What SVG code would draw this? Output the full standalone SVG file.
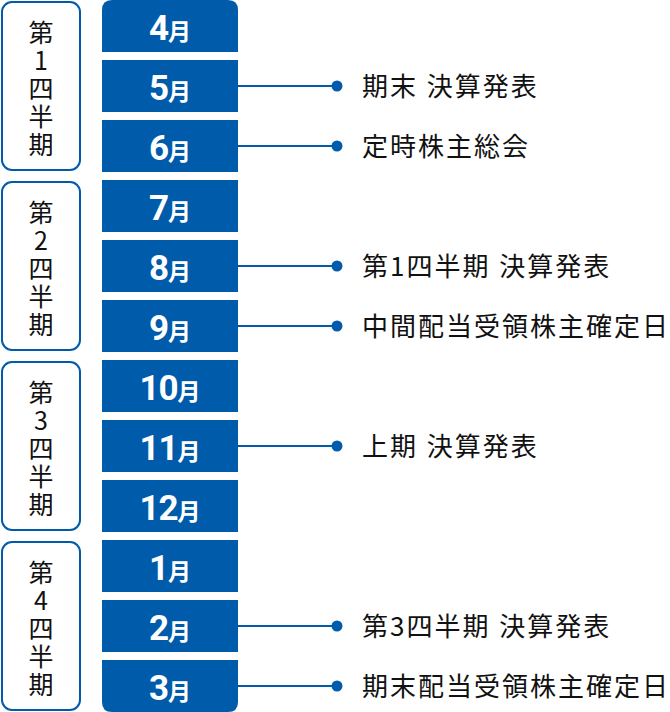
<svg xmlns="http://www.w3.org/2000/svg" width="670" height="712" viewBox="0 0 670 712">
<style>
.q{fill:#fff;stroke:#005bab;stroke-width:2}
.qt{font-family:"Noto Sans CJK JP","Noto Sans",sans-serif;font-size:25px;fill:#111;text-anchor:middle}
.m{fill:#005bab}
.mt{font-family:Roboto,"Noto Sans CJK JP",sans-serif;font-weight:700;font-size:35px;fill:#fff;text-anchor:middle;letter-spacing:-1px}
.mt .u{font-family:"Noto Sans CJK JP",sans-serif;font-size:23px;letter-spacing:0}
.ln{stroke:#005bab;stroke-width:2;fill:none}
.dot{fill:#005bab}
.lb{font-family:"Noto Sans CJK JP","Noto Sans",sans-serif;font-size:26px;fill:#111;letter-spacing:2px;word-spacing:1px}
</style>

<g id="q1"><rect class="q" x="2" y="2" width="78" height="168" rx="10"/>
<text class="qt"><tspan x="41" y="42">第</tspan><tspan x="41" y="70">1</tspan><tspan x="41" y="98">四</tspan><tspan x="41" y="126">半</tspan><tspan x="41" y="154">期</tspan></text></g>
<g id="q2"><rect class="q" x="2" y="182" width="78" height="168" rx="10"/>
<text class="qt"><tspan x="41" y="222">第</tspan><tspan x="41" y="250">2</tspan><tspan x="41" y="278">四</tspan><tspan x="41" y="306">半</tspan><tspan x="41" y="334">期</tspan></text></g>
<g id="q3"><rect class="q" x="2" y="362" width="78" height="168" rx="10"/>
<text class="qt"><tspan x="41" y="402">第</tspan><tspan x="41" y="430">3</tspan><tspan x="41" y="458">四</tspan><tspan x="41" y="486">半</tspan><tspan x="41" y="514">期</tspan></text></g>
<g id="q4"><rect class="q" x="2" y="542" width="78" height="168" rx="10"/>
<text class="qt"><tspan x="41" y="582">第</tspan><tspan x="41" y="610">4</tspan><tspan x="41" y="638">四</tspan><tspan x="41" y="666">半</tspan><tspan x="41" y="694">期</tspan></text></g>

<g id="m4"><path class="m" d="M102,52 V10 Q102,0 112,0 H228 Q238,0 238,10 V52 Z"/><text class="mt" x="170" y="40">4<tspan class="u">月</tspan></text></g>
<g id="m5"><rect class="m" x="102" y="60" width="136" height="52"/><text class="mt" x="170" y="100">5<tspan class="u">月</tspan></text></g>
<g id="m6"><rect class="m" x="102" y="120" width="136" height="52"/><text class="mt" x="170" y="160">6<tspan class="u">月</tspan></text></g>
<g id="m7"><rect class="m" x="102" y="180" width="136" height="52"/><text class="mt" x="170" y="220">7<tspan class="u">月</tspan></text></g>
<g id="m8"><rect class="m" x="102" y="240" width="136" height="52"/><text class="mt" x="170" y="280">8<tspan class="u">月</tspan></text></g>
<g id="m9"><rect class="m" x="102" y="300" width="136" height="52"/><text class="mt" x="170" y="340">9<tspan class="u">月</tspan></text></g>
<g id="m10"><rect class="m" x="102" y="360" width="136" height="52"/><text class="mt" x="170" y="400">10<tspan class="u">月</tspan></text></g>
<g id="m11"><rect class="m" x="102" y="420" width="136" height="52"/><text class="mt" x="170" y="460">11<tspan class="u">月</tspan></text></g>
<g id="m12"><rect class="m" x="102" y="480" width="136" height="52"/><text class="mt" x="170" y="520">12<tspan class="u">月</tspan></text></g>
<g id="m1"><rect class="m" x="102" y="540" width="136" height="52"/><text class="mt" x="170" y="580">1<tspan class="u">月</tspan></text></g>
<g id="m2"><rect class="m" x="102" y="600" width="136" height="52"/><text class="mt" x="170" y="640">2<tspan class="u">月</tspan></text></g>
<g id="m3"><path class="m" d="M102,660 H238 V702 Q238,712 228,712 H112 Q102,712 102,702 Z"/><text class="mt" x="170" y="700">3<tspan class="u">月</tspan></text></g>

<g id="connectors">
<path class="ln" d="M238,86 H337 M238,146 H337 M238,266 H337 M238,326 H337 M238,446 H337 M238,626 H337 M238,686 H337"/>
<circle class="dot" cx="337" cy="86" r="5.5"/>
<circle class="dot" cx="337" cy="146" r="5.5"/>
<circle class="dot" cx="337" cy="266" r="5.5"/>
<circle class="dot" cx="337" cy="326" r="5.5"/>
<circle class="dot" cx="337" cy="446" r="5.5"/>
<circle class="dot" cx="337" cy="626" r="5.5"/>
<circle class="dot" cx="337" cy="686" r="5.5"/>
</g>

<g id="labels">
<text class="lb" x="362" y="96">期末 決算発表</text>
<text class="lb" x="362" y="156">定時株主総会</text>
<text class="lb" x="362" y="276">第1四半期 決算発表</text>
<text class="lb" x="362" y="336">中間配当受領株主確定日</text>
<text class="lb" x="362" y="456">上期 決算発表</text>
<text class="lb" x="362" y="636">第3四半期 決算発表</text>
<text class="lb" x="362" y="696">期末配当受領株主確定日</text>
</g>
</svg>
